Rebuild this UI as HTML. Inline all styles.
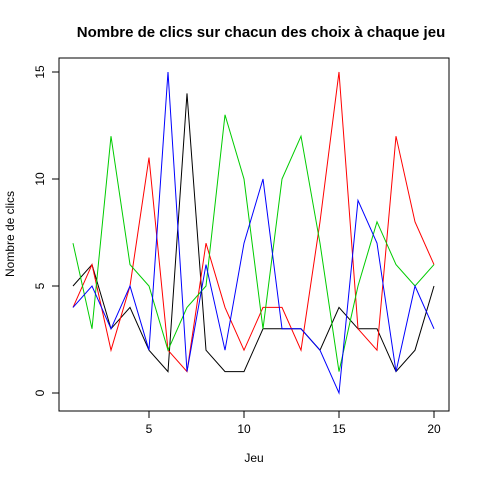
<!DOCTYPE html>
<html><head><meta charset="utf-8"><style>body{margin:0;background:#fff}svg{display:block;font-family:"Liberation Sans",sans-serif}</style></head>
<body>
<svg id="c" width="480" height="480">
<rect x="0" y="0" width="480" height="480" fill="#fff"/>
<text x="261" y="37" text-anchor="middle" font-size="15" font-weight="bold">Nombre de clics sur chacun des choix à chaque jeu</text>
<text x="254" y="462" text-anchor="middle" font-size="12">Jeu</text>
<text transform="translate(14,234) rotate(-90)" text-anchor="middle" font-size="12">Nombre de clics</text>
<rect x="59" y="58" width="390" height="353" fill="none" stroke="#000"/>
<g id="axes"></g>
<g id="series"></g>
</svg>
<script>
const jeux=[1,2,3,4,5,6,7,8,9,10,11,12,13,14,15,16,17,18,19,20];
const black=[5,6,3,4,2,1,14,2,1,1,3,3,3,2,4,3,3,1,2,5];
const red=[4,6,2,5,11,2,1,7,4,2,4,4,2,8,15,3,2,12,8,6];
const green=[7,3,12,6,5,2,4,5,13,10,3,10,12,7,1,5,8,6,5,6];
const blue=[4,5,3,5,2,15,1,6,2,7,10,3,3,2,0,9,7,1,5,3];
const xTicks=[5,10,15,20];
const yTicks=[0,5,10,15];
const NS="http://www.w3.org/2000/svg";
const sx=v=>73+(v-1)*19;
const sy=v=>393-v*21.4;
const ax=document.getElementById('axes');
function mk(t,a,p){const e=document.createElementNS(NS,t);for(const k in a)e.setAttribute(k,a[k]);p.appendChild(e);return e;}
mk('line',{x1:sx(5),x2:sx(20),y1:411,y2:411,stroke:'#000'},ax);
xTicks.forEach(v=>{
 const l=mk('line',{x1:sx(v),x2:sx(v),y1:411,y2:418,stroke:'#000'},ax);
 
 
 const t=mk('text',{x:sx(v),y:433,'text-anchor':'middle','font-size':12},ax);t.textContent=v;
 
 
});
mk('line',{x1:59,x2:59,y1:sy(0),y2:sy(15),stroke:'#000'},ax);
yTicks.forEach(v=>{
 const l=mk('line',{x1:52,x2:59,y1:sy(v),y2:sy(v),stroke:'#000'},ax);
 
 
 const t=mk('text',{transform:`translate(44,${sy(v)}) rotate(-90)`,'text-anchor':'middle','font-size':12},ax);t.textContent=v;
 
 
});
const sg=document.getElementById('series');
[[black,'#000','black'],[red,'#f00','red'],[green,'#0c0','green'],[blue,'#00f','blue']].forEach(([d,c,n])=>{
 const p=mk('polyline',{points:d.map((v,i)=>sx(jeux[i])+','+sy(v)).join(' '),fill:'none',stroke:c,'stroke-width':1},sg);
 
 
});
</script>
</body></html>
